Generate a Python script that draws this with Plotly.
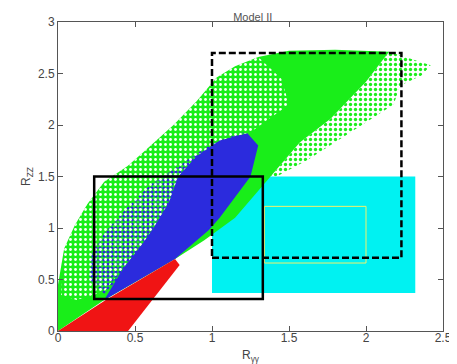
import plotly.graph_objects as go

# outlines of the point clouds (R_yy, R_ZZ)
green_x = [0.0, 0.0, 0.04, 0.11, 0.19, 0.30, 0.45, 0.55, 0.75, 0.90, 1.03, 1.15, 1.30, 1.50, 1.80, 2.15,
           2.00, 1.77, 1.57, 1.38, 1.15, 0.95, 0.76, 0.30, 0.0]
green_y = [0.0, 0.45, 0.80, 1.03, 1.23, 1.45, 1.60, 1.73, 2.00, 2.23, 2.46, 2.57, 2.66, 2.72, 2.73, 2.71,
           2.42, 2.06, 1.83, 1.50, 1.10, 0.88, 0.70, 0.30, 0.0]

green_fringe_x = [2.15, 2.32, 2.42, 2.36, 2.22, 2.18, 2.00, 1.85, 1.62, 1.42, 1.38, 1.57, 1.77, 2.00, 2.15]
green_fringe_y = [2.71, 2.63, 2.58, 2.48, 2.38, 2.20, 2.03, 1.88, 1.66, 1.50, 1.50, 1.83, 2.06, 2.42, 2.71]

# speckled (holey) part of the clouds
holes_x = [0.02, 0.04, 0.11, 0.19, 0.30, 0.45, 0.55, 0.75, 0.90, 1.03, 1.15, 1.30, 1.45, 1.50, 1.25,
           1.05, 0.90, 0.78, 0.72, 0.62, 0.55, 0.42, 0.30, 0.12, 0.02]
holes_y = [0.35, 0.80, 1.03, 1.23, 1.45, 1.60, 1.73, 2.00, 2.23, 2.46, 2.57, 2.66, 2.45, 2.20, 1.93,
           1.85, 1.70, 1.50, 1.25, 1.00, 0.85, 0.60, 0.38, 0.30, 0.35]

blue_mix_x = [0.30, 0.20, 0.22, 0.30, 0.45, 0.60, 0.80, 1.00, 1.20, 1.23, 0.90, 0.42, 0.30]
blue_mix_y = [0.36, 0.50, 0.75, 0.95, 1.20, 1.42, 1.62, 1.82, 1.93, 1.90, 1.50, 0.55, 0.36]

blue_x = [0.30, 0.76, 0.98, 1.05, 1.25, 1.30, 1.23, 1.05, 0.90, 0.78, 0.72, 0.62, 0.55, 0.42, 0.30]
blue_y = [0.30, 0.70, 0.98, 1.10, 1.50, 1.80, 1.92, 1.85, 1.70, 1.50, 1.25, 1.00, 0.85, 0.60, 0.30]

red_x = [0.0, 0.455, 0.79, 0.76, 0.31, 0.0]
red_y = [0.0, 0.0, 0.64, 0.70, 0.30, 0.0]

# boxes: [x0, x1], [y0, y1]
cyan_box = ([1.0, 2.32], [0.37, 1.5])
yellow_box = ([1.34, 2.0], [0.66, 1.21])
dashed_box = ([1.0, 2.23], [0.71, 2.70])
solid_box = ([0.235, 1.33], [0.31, 1.5])

GREEN = '#19ee19'
BLUE = '#2b2bdd'
RED = '#f01414'
CLEAR = 'rgba(0,0,0,0)'

fig = go.Figure()


def add_region(xs, ys, color, pattern=None):
    kw = dict(x=xs, y=ys, mode='lines', fill='toself', line=dict(width=0),
              hoverinfo='skip', showlegend=False)
    if pattern:
        kw['fillcolor'] = CLEAR
        kw['fillpattern'] = dict(shape='.', fgcolor=color, bgcolor=CLEAR, size=pattern[0],
                                 solidity=pattern[1], fillmode='replace')
    else:
        kw['fillcolor'] = color
    fig.add_trace(go.Scatter(**kw))


add_region(green_x, green_y, GREEN)
add_region(green_fringe_x, green_fringe_y, GREEN, (5, 0.35))
add_region(blue_mix_x, blue_mix_y, BLUE, (4, 0.5))
add_region(blue_x, blue_y, BLUE)
add_region(red_x, red_y, RED)
add_region(holes_x, holes_y, 'white', (5, 0.25))

fig.add_shape(type='rect', x0=cyan_box[0][0], x1=cyan_box[0][1], y0=cyan_box[1][0], y1=cyan_box[1][1],
              fillcolor='#00f2f2', line=dict(width=0), layer='below')
fig.add_shape(type='rect', x0=yellow_box[0][0], x1=yellow_box[0][1], y0=yellow_box[1][0], y1=yellow_box[1][1],
              line=dict(color='#f2f26a', width=1))
fig.add_shape(type='rect', x0=dashed_box[0][0], x1=dashed_box[0][1], y0=dashed_box[1][0], y1=dashed_box[1][1],
              line=dict(color='black', width=2.5, dash='7px,3px'))
fig.add_shape(type='rect', x0=solid_box[0][0], x1=solid_box[0][1], y0=solid_box[1][0], y1=solid_box[1][1],
              line=dict(color='black', width=2.5))

axis_style = dict(showgrid=False, zeroline=False, showline=True, mirror='ticks',
                  linecolor='#555', linewidth=1, ticks='inside', ticklen=5,
                  tickcolor='#555', tickfont=dict(size=12, color='#444'), automargin=False)

fig.update_xaxes(range=[0, 2.5], dtick=0.5, tickformat='~g', ticklabelstandoff=-4,
                 title=dict(text='R<sub>γγ</sub>', font=dict(size=12, color='#444'), standoff=6),
                 **axis_style)
fig.update_yaxes(range=[0, 3], dtick=0.5, tickformat='~g',
                 title=dict(text='R<sub>ZZ</sub>', font=dict(size=12, color='#444'), standoff=4),
                 **axis_style)

# the page puts the figure 8px in from the top-left corner
fig.update_layout(
    width=449, height=356,
    margin=dict(l=50, r=14, t=14, b=33),
    plot_bgcolor='white', paper_bgcolor='white',
    font=dict(family='Liberation Sans, Arial, sans-serif', color='#444'),
    title=dict(text='Model II', x=0.545, xanchor='center', y=0.985, yanchor='top',
               font=dict(size=11, color='#555')),
)

fig.write_html("out.html")
